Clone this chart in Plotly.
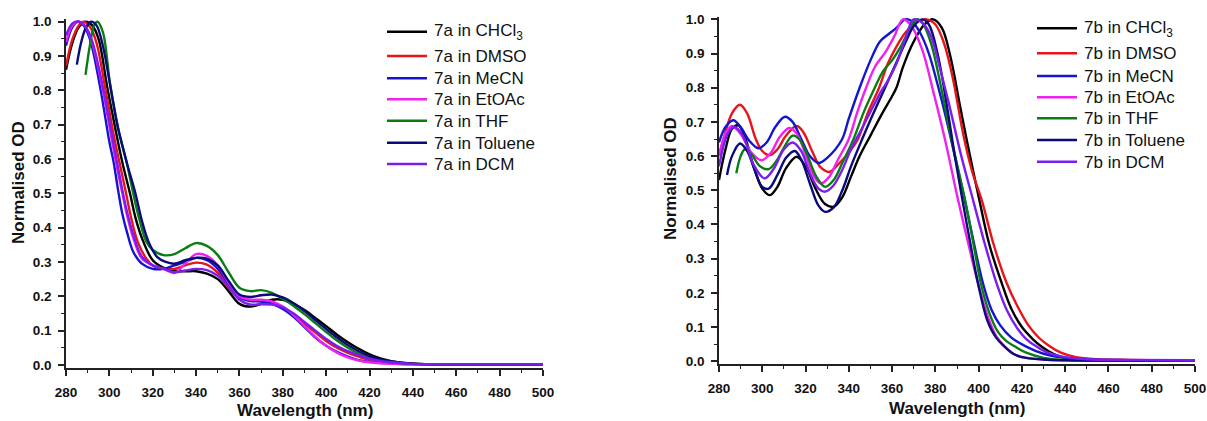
import plotly.graph_objects as go

# ---------------- 7a (left panel) ----------------
wl_7a_chcl3 = [280,283,286,289,292,295,299,303,306,309.5,312,315,320,325,330,335,340,345,350,355,360,365,370,375,380,385,390,395,400,405,410,415,420,425,430,440,460,500]
od_7a_chcl3 = [0.86,0.94,0.985,1.0,0.99,0.95,0.81,0.68,0.59,0.50,0.43,0.37,0.305,0.283,0.275,0.273,0.273,0.266,0.25,0.215,0.178,0.17,0.178,0.19,0.19,0.178,0.16,0.137,0.113,0.088,0.066,0.047,0.031,0.019,0.011,0.004,0.002,0.002]

wl_7a_dmso = [280,283,286,288,291,294,298,302,305,307.7,310,313,317,320,325,330,335,340,345,350,355,360,365,370,375,380,385,390,395,400,405,410,415,420,430,440,460,500]
od_7a_dmso = [0.87,0.95,0.99,1.0,0.985,0.94,0.81,0.67,0.58,0.50,0.43,0.36,0.31,0.29,0.28,0.28,0.29,0.298,0.292,0.268,0.225,0.195,0.188,0.186,0.18,0.166,0.145,0.12,0.095,0.07,0.05,0.035,0.024,0.015,0.006,0.003,0.002,0.002]

wl_7a_mecn = [280,283,285.5,288,291,296,300,302,304,306,308,311,315,320,325,330,335,340,345,350,355,360,365,370,375,380,385,390,395,400,405,410,415,420,430,440,460,500]
od_7a_mecn = [0.93,0.985,1.0,0.99,0.95,0.80,0.65,0.59,0.51,0.44,0.39,0.33,0.295,0.28,0.28,0.29,0.30,0.312,0.305,0.28,0.235,0.198,0.186,0.185,0.178,0.163,0.14,0.11,0.08,0.056,0.038,0.024,0.014,0.009,0.004,0.002,0.002,0.002]

wl_7a_etoac = [280,283,286,289,292,297,301,304,306,308,311,315,320,325,330,335,340,345,350,355,360,365,370,375,380,385,390,395,400,405,410,415,420,430,440,500]
od_7a_etoac = [0.94,0.99,1.0,0.985,0.94,0.80,0.66,0.56,0.50,0.44,0.37,0.31,0.29,0.28,0.268,0.295,0.323,0.318,0.29,0.24,0.20,0.19,0.19,0.185,0.17,0.145,0.113,0.082,0.056,0.036,0.022,0.013,0.008,0.003,0.002,0.002]

wl_7a_thf = [289,291,293,294.5,297,300.3,304,308,311,314,317,320,325,330,335,340,345,350,355,360,365,370,375,380,385,390,395,400,405,410,415,420,425,430,440,460,500]
od_7a_thf = [0.845,0.93,0.99,1.0,0.97,0.82,0.69,0.59,0.50,0.42,0.36,0.335,0.32,0.323,0.34,0.355,0.347,0.32,0.27,0.225,0.215,0.218,0.21,0.192,0.172,0.148,0.122,0.096,0.071,0.05,0.033,0.021,0.013,0.008,0.003,0.002,0.002]

wl_7a_toluene = [285,287,289,291.5,294,297,300.5,304,308,312,315,318,322,326,330,335,340,345,350,355,360,365,370,375,380,385,390,395,400,405,410,415,420,425,430,440,460,500]
od_7a_toluene = [0.875,0.94,0.98,1.0,0.99,0.93,0.81,0.69,0.59,0.50,0.42,0.36,0.315,0.30,0.295,0.305,0.312,0.31,0.29,0.245,0.205,0.198,0.203,0.205,0.197,0.18,0.157,0.131,0.105,0.08,0.058,0.04,0.026,0.016,0.01,0.004,0.002,0.002]

wl_7a_dcm = [280,283,286,289,292,297,301,304,306,308,311,315,320,325,330,335,340,345,350,355,360,365,370,375,380,385,390,395,400,405,410,415,420,425,430,440,460,500]
od_7a_dcm = [0.96,0.995,1.0,0.985,0.945,0.81,0.675,0.575,0.51,0.45,0.38,0.315,0.29,0.28,0.27,0.275,0.28,0.276,0.26,0.228,0.19,0.176,0.177,0.176,0.168,0.15,0.125,0.10,0.076,0.055,0.04,0.028,0.018,0.012,0.008,0.003,0.002,0.002]

# ---------------- 7b (right panel) ----------------
wl_7b_chcl3 = [280,283,286,289,292,296,300,303.6,307,311,315.9,320,325,329,333,337,341,345,350,355,359,362,365,370,375,379,383,387,391,394.5,400.3,405,410.7,415,420,425,429,435,440,450,460,500]
od_7b_chcl3 = [0.53,0.62,0.68,0.69,0.655,0.57,0.505,0.486,0.51,0.565,0.598,0.57,0.50,0.46,0.452,0.48,0.54,0.60,0.66,0.72,0.764,0.80,0.86,0.935,0.985,1.0,0.975,0.89,0.76,0.647,0.472,0.34,0.228,0.155,0.10,0.065,0.043,0.02,0.01,0.004,0.003,0.003]

wl_7b_dmso = [280,283,286,289.7,293,297,300,303.6,307,311,315.9,319,323,327,331,335,340,344,349,354,358,362,366,371,376,380,384,388,393,397,401.4,407,413,418,423,428,433,438,445,455,470,500]
od_7b_dmso = [0.60,0.67,0.725,0.75,0.725,0.65,0.615,0.603,0.62,0.66,0.688,0.67,0.615,0.567,0.554,0.575,0.61,0.647,0.73,0.80,0.87,0.92,0.96,0.99,1.0,0.985,0.93,0.83,0.66,0.555,0.472,0.34,0.228,0.16,0.105,0.068,0.043,0.025,0.012,0.006,0.004,0.003]

wl_7b_mecn = [280,283,286.6,290,294,298.2,302,306,310.5,314,318,322,326,330,336.7,340,345,350,354.4,358,362,366,369,373,377,381,385,389,393.6,397,402,406,410,415,422,430,440,450,470,500]
od_7b_mecn = [0.64,0.685,0.705,0.685,0.645,0.623,0.64,0.685,0.715,0.70,0.65,0.60,0.58,0.595,0.647,0.71,0.80,0.88,0.935,0.955,0.975,1.0,0.995,0.96,0.90,0.81,0.71,0.60,0.472,0.37,0.228,0.15,0.105,0.07,0.043,0.022,0.01,0.005,0.003,0.003]

wl_7b_etoac = [280,283,286,290,295,299.7,304,308,312.5,316,320,324,327,331,335,339.8,344,348,352,357,361,365,369,374,379,384.5,390.5,395,399.7,404,408,412,416,420,430,440,500]
od_7b_etoac = [0.60,0.665,0.688,0.665,0.61,0.588,0.61,0.655,0.682,0.665,0.605,0.54,0.52,0.54,0.59,0.647,0.73,0.80,0.86,0.905,0.95,1.0,0.98,0.91,0.79,0.647,0.472,0.35,0.228,0.135,0.075,0.043,0.022,0.012,0.005,0.003,0.003]

wl_7b_thf = [288,290,292,295,299,303,307,310,314,317,321,325,329,333,337,342,347,352,356,360,364,368,371.4,374,378,383,387.5,393.7,398,401,405,409,413,416.8,422,430,440,500]
od_7b_thf = [0.55,0.60,0.62,0.605,0.57,0.562,0.59,0.625,0.66,0.65,0.60,0.54,0.51,0.53,0.58,0.647,0.73,0.80,0.85,0.88,0.92,0.97,1.0,0.99,0.93,0.79,0.647,0.472,0.33,0.228,0.14,0.085,0.058,0.043,0.025,0.01,0.004,0.003]

wl_7b_toluene = [283.7,286,289.7,293,297,300,303,307,311,315,318,322,326,329,333,337,341,346,351,356,361,366,370,374,377,381,385,389,392.5,396,399.7,404,408,412,416,420,430,440,500]
od_7b_toluene = [0.545,0.60,0.637,0.615,0.55,0.51,0.505,0.545,0.595,0.615,0.59,0.52,0.455,0.437,0.45,0.50,0.57,0.647,0.72,0.79,0.86,0.93,0.98,1.0,0.985,0.90,0.76,0.60,0.472,0.35,0.228,0.12,0.07,0.043,0.022,0.012,0.005,0.003,0.003]

wl_7b_dcm = [280,284,287,291,296,301,305,310,314,318,322,326,329,333,337,341,346,350,355,358,362,366,370,374,378,382,386,392,397.4,403,408.3,413,418,422,426.8,432,440,450,470,500]
od_7b_dcm = [0.57,0.665,0.685,0.66,0.575,0.535,0.56,0.62,0.64,0.615,0.55,0.505,0.496,0.515,0.56,0.62,0.68,0.73,0.79,0.82,0.87,0.94,1.0,0.99,0.95,0.86,0.76,0.60,0.472,0.34,0.228,0.15,0.095,0.065,0.043,0.025,0.012,0.006,0.004,0.003]

solvents = ["CHCl<sub>3</sub>", "DMSO", "MeCN", "EtOAc", "THF", "Toluene", "DCM"]
colors = ["#000000", "#e8141c", "#1414d2", "#f020f0", "#0a7d12", "#0a0a7a", "#7a1ef0"]

series_7a = [(wl_7a_chcl3, od_7a_chcl3), (wl_7a_dmso, od_7a_dmso), (wl_7a_mecn, od_7a_mecn),
             (wl_7a_etoac, od_7a_etoac), (wl_7a_thf, od_7a_thf), (wl_7a_toluene, od_7a_toluene),
             (wl_7a_dcm, od_7a_dcm)]
series_7b = [(wl_7b_chcl3, od_7b_chcl3), (wl_7b_dmso, od_7b_dmso), (wl_7b_mecn, od_7b_mecn),
             (wl_7b_etoac, od_7b_etoac), (wl_7b_thf, od_7b_thf), (wl_7b_toluene, od_7b_toluene),
             (wl_7b_dcm, od_7b_dcm)]

FONT = "Liberation Sans, Arial, sans-serif"
W, H = 1207, 421

fig = go.Figure()
for i, (x, y) in enumerate(series_7a):
    fig.add_trace(go.Scatter(x=x, y=y, mode="lines", name="7a in " + solvents[i], showlegend=False,
                             line=dict(color=colors[i], width=2.4, shape="spline", smoothing=1.0),
                             xaxis="x", yaxis="y"))
for i, (x, y) in enumerate(series_7b):
    fig.add_trace(go.Scatter(x=x, y=y, mode="lines", name="7b in " + solvents[i], showlegend=False,
                             line=dict(color=colors[i], width=2.4, shape="spline", smoothing=1.0),
                             xaxis="x2", yaxis="y2"))

xt = list(range(280, 501, 20))
yt = [round(v * 0.1, 1) for v in range(0, 11)]

def xax(domain, anchor):
    return dict(domain=domain, anchor=anchor, range=[280, 500], tickvals=xt,
                ticks="outside", ticklen=6, tickwidth=1.5, tickcolor="#222", ticklabelstandoff=5,
                minor=dict(dtick=10, tick0=280, ticks="outside", ticklen=3.5, tickwidth=1.3, tickcolor="#222"),
                showline=True, linecolor="#222", linewidth=1.6, showgrid=False, zeroline=False,
                tickfont=dict(family=FONT, size=13.5, color="#111", weight="bold"), automargin=False)

def yax(domain, anchor, rng):
    return dict(domain=domain, anchor=anchor, range=rng, tickvals=yt, tickformat=".1f",
                ticks="outside", ticklen=6, tickwidth=1.5, tickcolor="#222", ticklabelstandoff=4,
                minor=dict(dtick=0.05, tick0=0, ticks="outside", ticklen=3.5, tickwidth=1.3, tickcolor="#222"),
                showline=True, linecolor="#222", linewidth=1.6, showgrid=False, zeroline=False,
                tickfont=dict(family=FONT, size=13.5, color="#111", weight="bold"), automargin=False)

fig.update_layout(
    width=W, height=H,
    margin=dict(l=0, r=0, t=0, b=0),
    paper_bgcolor="white", plot_bgcolor="white",
    xaxis=xax([66 / W, 543 / W], "y"),
    yaxis=yax([1 - 367.7 / H, 1 - 19.3 / H], "x", [-0.008, 1.007]),
    xaxis2=xax([719 / W, 1195 / W], "y2"),
    yaxis2=yax([1 - 364 / H, 1 - 16.6 / H], "x2", [-0.008, 1.008]),
)

titlefont = dict(family=FONT, size=17, color="#111", weight="bold")
ann = [
    dict(text="Normalised OD", x=18 / W, y=1 - 183 / H, textangle=-90, font=titlefont),
    dict(text="Wavelength (nm)", x=305 / W, y=1 - 410.5 / H, font=titlefont),
    dict(text="Normalised OD", x=670 / W, y=1 - 179 / H, textangle=-90, font=titlefont),
    dict(text="Wavelength (nm)", x=957 / W, y=1 - 408.5 / H, font=titlefont),
]
for a in ann:
    a.update(xref="paper", yref="paper", xanchor="center", yanchor="middle", showarrow=False)

# legend entries (line sample + label) for each panel
legfont = dict(family=FONT, size=17, color="#111")
leg_rows_left = [31.7, 56, 78.3, 99.3, 120.7, 142.7, 164]
leg_rows_right = [28.3, 53.3, 76, 97.3, 118.3, 140, 161.7]
shapes = []
for prefix, rows, lx0, lx1, tx in [("7a in ", leg_rows_left, 387, 427, 432),
                                   ("7b in ", leg_rows_right, 1037, 1077, 1082)]:
    for i, ry in enumerate(rows):
        shapes.append(dict(type="line", xref="paper", yref="paper",
                           x0=lx0 / W, x1=lx1 / W, y0=1 - ry / H, y1=1 - ry / H,
                           line=dict(color=colors[i], width=2.5)))
        ann.append(dict(text=prefix + solvents[i], x=tx / W, y=1 - (ry + 0.5) / H,
                        xref="paper", yref="paper", xanchor="left", yanchor="middle",
                        showarrow=False, font=legfont))

fig.update_layout(annotations=ann, shapes=shapes)

fig.write_html("out.html")
